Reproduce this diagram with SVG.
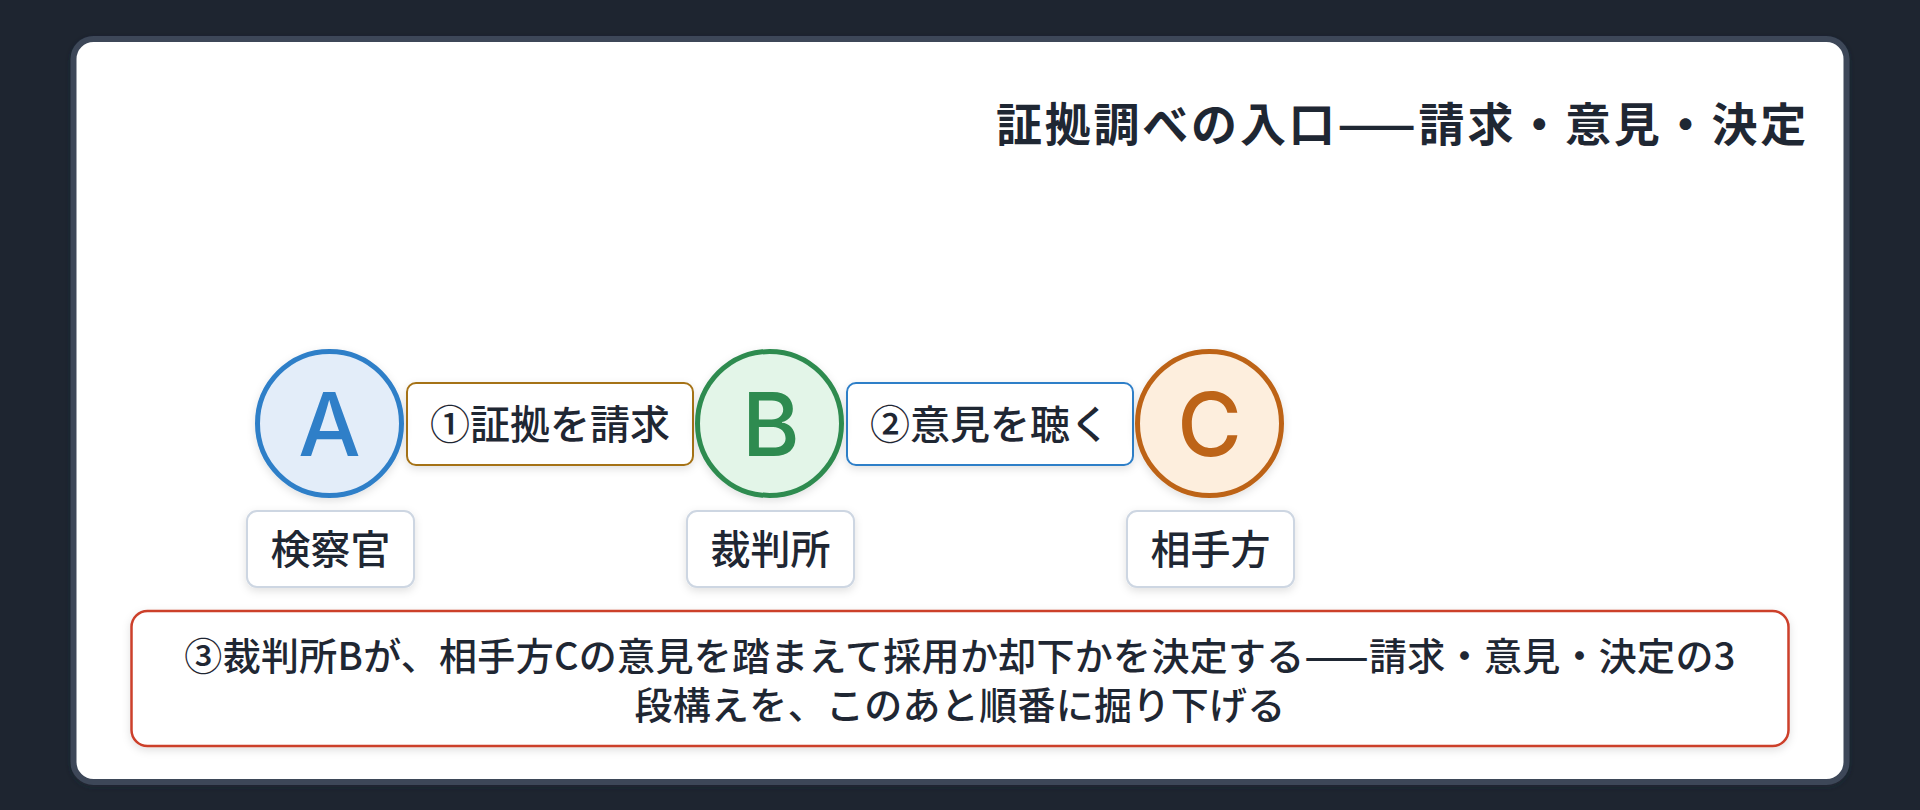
<svg xmlns="http://www.w3.org/2000/svg" width="1920" height="810" viewBox="0 0 1920 810">
  <style>
    .t { font-family: "Noto Sans CJK JP", "Noto Sans", sans-serif; fill: #1f2733; }
    .title { font-size: 46px; font-weight: 700; letter-spacing: 2.8px; }
    .lbl { font-size: 40px; font-weight: 500; text-anchor: middle; }
    .body { font-size: 38px; font-weight: 500; text-anchor: middle; letter-spacing: 0.3px; }
    .letter { font-family: Inter, "Liberation Sans", sans-serif; font-size: 88px; font-weight: 500; text-anchor: middle; }
    .namebox { fill: #ffffff; stroke: #cdd6e2; stroke-width: 2; }
    .circ { stroke-width: 5; }
  </style>
  <defs>
    <filter id="sh" x="-20%" y="-20%" width="140%" height="160%">
      <feDropShadow dx="0" dy="3" stdDeviation="4" flood-color="#000000" flood-opacity="0.12"/>
    </filter>
    <filter id="shc" x="-20%" y="-20%" width="140%" height="140%">
      <feDropShadow dx="0" dy="2" stdDeviation="3" flood-color="#1e2530" flood-opacity="0.35"/>
    </filter>
  </defs>

  <rect x="0" y="0" width="1920" height="810" fill="#1e2530"/>
  <rect id="card" x="73.5" y="39" width="1773" height="743" rx="20" ry="20" fill="#ffffff" stroke="#3c4758" stroke-width="6" filter="url(#shc)"/>

  <g id="title">
    <text class="t title" x="1809" y="141" text-anchor="end">証拠調べの入口——請求・意見・決定</text>
  </g>

  <g id="connectors">
    <g id="edge-ab">
      <rect x="407" y="383" width="286" height="82" rx="9" ry="9" fill="#ffffff" stroke="#a57216" stroke-width="2" filter="url(#sh)"/>
      <text class="t lbl" x="550" y="438.5">①証拠を請求</text>
    </g>
    <g id="edge-bc">
      <rect x="847" y="383" width="286" height="82" rx="9" ry="9" fill="#ffffff" stroke="#2f7fc8" stroke-width="2" filter="url(#sh)"/>
      <text class="t lbl" x="990" y="438.5">②意見を聴く</text>
    </g>
  </g>

  <g id="node-a">
    <circle class="circ" cx="329.5" cy="423.5" r="72" fill="#e3edf9" stroke="#2f7fc8" filter="url(#sh)"/>
    <text class="letter" x="329.5" y="456" fill="#2f7fc8">A</text>
    <rect class="namebox" x="247" y="511" width="167" height="76" rx="10" ry="10" filter="url(#sh)"/>
    <text class="t lbl" x="330.5" y="564">検察官</text>
  </g>

  <g id="node-b">
    <circle class="circ" cx="769.5" cy="423.5" r="72" fill="#e3f5e8" stroke="#2e8b50" filter="url(#sh)"/>
    <text class="letter" x="771" y="456" fill="#2e8b50">B</text>
    <rect class="namebox" x="687" y="511" width="167" height="76" rx="10" ry="10" filter="url(#sh)"/>
    <text class="t lbl" x="770.5" y="564">裁判所</text>
  </g>

  <g id="node-c">
    <circle class="circ" cx="1209.5" cy="423.5" r="72" fill="#fdeedd" stroke="#bd6418" filter="url(#sh)"/>
    <text class="letter" x="1209.5" y="456" fill="#bd6418">C</text>
    <rect class="namebox" x="1127" y="511" width="167" height="76" rx="10" ry="10" filter="url(#sh)"/>
    <text class="t lbl" x="1210.5" y="564">相手方</text>
  </g>

  <g id="note">
    <rect x="131.5" y="611" width="1657" height="135" rx="16" ry="16" fill="#ffffff" stroke="#cc3f2b" stroke-width="2.5" filter="url(#sh)"/>
    <text class="t body" x="960" y="670">③裁判所Bが、相手方Cの意見を踏まえて採用か却下かを決定する——請求・意見・決定の3</text>
    <text class="t body" x="960" y="719">段構えを、このあと順番に掘り下げる</text>
  </g>
</svg>
